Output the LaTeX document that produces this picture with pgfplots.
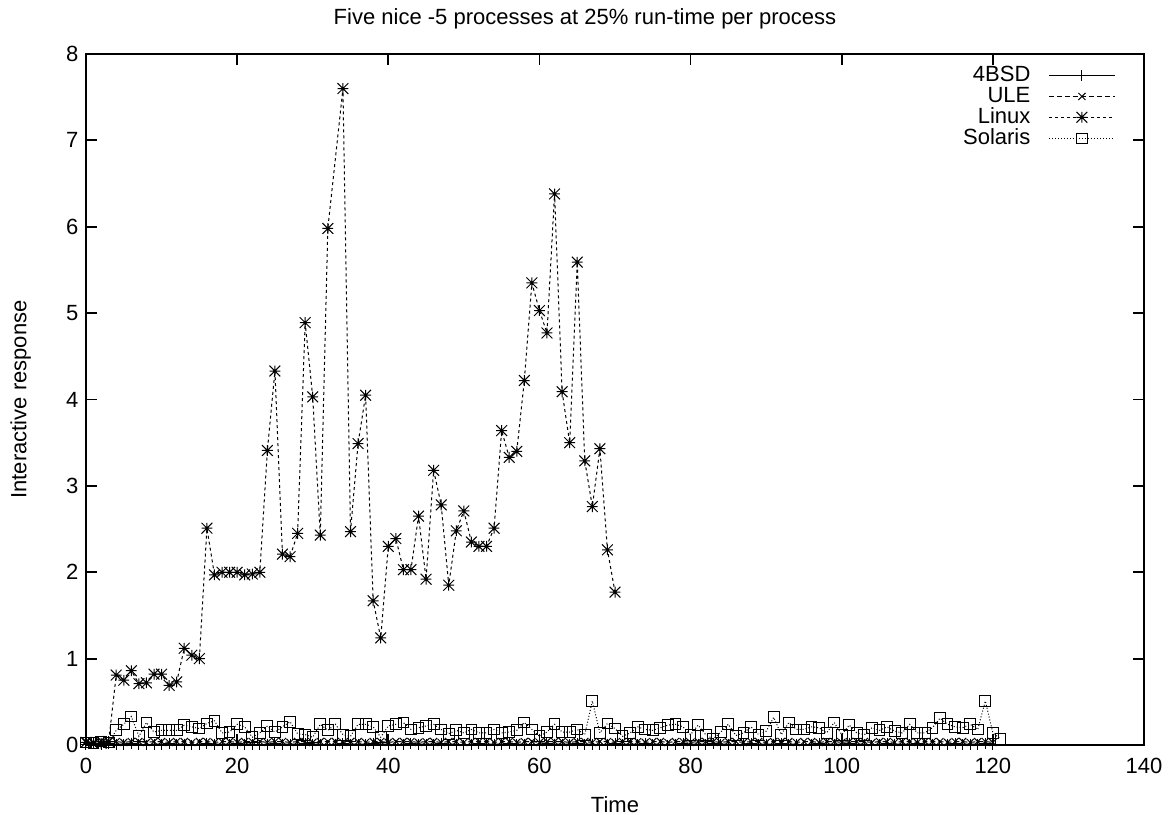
\documentclass[border=0pt]{standalone}
\usepackage{pgfplots}
\usepackage{pgfplotstable}
\pgfplotsset{compat=1.18}
\usepackage{fontspec}
\setmainfont{Liberation Sans}
\pgfdeclareplotmark{gpstar}{%
 \pgfpathmoveto{\pgfqpoint{-\pgfplotmarksize}{0pt}}\pgfpathlineto{\pgfqpoint{\pgfplotmarksize}{0pt}}%
 \pgfpathmoveto{\pgfqpoint{0pt}{-\pgfplotmarksize}}\pgfpathlineto{\pgfqpoint{0pt}{\pgfplotmarksize}}%
 \pgfpathmoveto{\pgfqpoint{-\pgfplotmarksize}{-\pgfplotmarksize}}\pgfpathlineto{\pgfqpoint{\pgfplotmarksize}{\pgfplotmarksize}}%
 \pgfpathmoveto{\pgfqpoint{-\pgfplotmarksize}{\pgfplotmarksize}}\pgfpathlineto{\pgfqpoint{\pgfplotmarksize}{-\pgfplotmarksize}}%
 \pgfusepathqstroke}

\pgfplotstableread{
x bsd ule
0 0.01 0.04
1 0.02 0.03
2 0.01 0.05
3 0.02 0.04
4 0.01 0.04
5 0.01 0.03
6 0.02 0.04
7 0.01 0.04
8 0.00 0.03
9 0.01 0.04
10 0.01 0.04
11 0.02 0.03
12 0.01 0.04
13 0.01 0.04
14 0.00 0.03
15 0.01 0.04
16 0.02 0.04
17 0.01 0.03
18 0.01 0.04
19 0.01 0.04
20 0.02 0.03
21 0.01 0.04
22 0.01 0.04
23 0.00 0.04
24 0.01 0.03
25 0.02 0.04
26 0.01 0.04
27 0.01 0.03
28 0.01 0.04
29 0.02 0.04
30 0.01 0.03
31 0.01 0.04
32 0.00 0.04
33 0.01 0.04
34 0.02 0.03
35 0.01 0.04
36 0.01 0.04
37 0.01 0.03
38 0.02 0.04
39 0.01 0.04
40 0.01 0.03
41 0.00 0.04
42 0.01 0.04
43 0.02 0.04
44 0.01 0.03
45 0.01 0.04
46 0.01 0.04
47 0.02 0.03
48 0.01 0.04
49 0.01 0.04
50 0.00 0.03
51 0.01 0.04
52 0.02 0.04
53 0.01 0.04
54 0.01 0.03
55 0.01 0.04
56 0.02 0.04
57 0.01 0.03
58 0.01 0.04
59 0.00 0.04
60 0.01 0.03
61 0.02 0.04
62 0.01 0.04
63 0.01 0.04
64 0.01 0.03
65 0.02 0.04
66 0.01 0.04
67 0.01 0.03
68 0.00 0.04
69 0.01 0.04
70 0.02 0.03
71 0.01 0.04
72 0.01 0.04
73 0.01 0.04
74 0.02 0.03
75 0.01 0.04
76 0.01 0.04
77 0.00 0.03
78 0.01 0.04
79 0.02 0.04
80 0.01 0.03
81 0.01 0.04
82 0.01 0.04
83 0.02 0.04
84 0.01 0.03
85 0.01 0.04
86 0.00 0.04
87 0.01 0.03
88 0.02 0.04
89 0.01 0.04
90 0.01 0.03
91 0.01 0.04
92 0.02 0.04
93 0.01 0.04
94 0.01 0.03
95 0.00 0.04
96 0.01 0.04
97 0.02 0.03
98 0.01 0.04
99 0.01 0.04
100 0.01 0.03
101 0.02 0.04
102 0.01 0.04
103 0.01 0.04
104 0.00 0.03
105 0.01 0.04
106 0.02 0.04
107 0.01 0.03
108 0.01 0.04
109 0.01 0.04
110 0.02 0.03
111 0.01 0.04
112 0.01 0.04
113 0.00 0.04
114 0.01 0.03
115 0.02 0.04
116 0.01 0.04
117 0.01 0.03
118 0.01 0.04
119 0.02 0.04
120 0.01 0.03
}\tblbsdule

\pgfplotstableread{
x y
0 0.03
1 0.02
2 0.02
3 0.04
4 0.81
5 0.75
6 0.86
7 0.71
8 0.72
9 0.82
10 0.82
11 0.69
12 0.73
13 1.12
14 1.04
15 1.00
16 2.51
17 1.97
18 2.00
19 2.00
20 2.00
21 1.97
22 1.98
23 2.00
24 3.41
25 4.33
26 2.21
27 2.18
28 2.45
29 4.89
30 4.03
31 2.43
32 5.98
34 7.60
35 2.47
36 3.49
37 4.05
38 1.67
39 1.24
40 2.30
41 2.39
42 2.03
43 2.03
44 2.65
45 1.92
46 3.18
47 2.78
48 1.85
49 2.48
50 2.71
51 2.35
52 2.30
53 2.30
54 2.51
55 3.64
56 3.33
57 3.40
58 4.22
59 5.35
60 5.03
61 4.77
62 6.38
63 4.09
64 3.50
65 5.59
66 3.29
67 2.76
68 3.43
69 2.26
70 1.77
}\tbllinux

\pgfplotstableread{
x y
0 0.03
1 0.02
2 0.04
3 0.03
4 0.17
5 0.24
6 0.33
7 0.10
8 0.26
9 0.15
10 0.17
11 0.17
12 0.17
13 0.23
14 0.21
15 0.19
16 0.25
17 0.28
18 0.14
19 0.15
20 0.24
21 0.21
22 0.09
23 0.14
24 0.22
25 0.15
26 0.21
27 0.27
28 0.13
29 0.12
30 0.09
31 0.24
32 0.17
33 0.24
34 0.12
35 0.10
36 0.24
37 0.24
38 0.21
39 0.09
40 0.22
41 0.24
42 0.26
43 0.18
44 0.20
45 0.22
46 0.24
47 0.18
48 0.13
49 0.17
50 0.14
51 0.18
52 0.14
53 0.14
54 0.18
55 0.14
56 0.15
57 0.17
58 0.26
59 0.18
60 0.10
61 0.15
62 0.24
63 0.15
64 0.15
65 0.18
66 0.12
67 0.51
68 0.14
69 0.25
70 0.19
71 0.10
72 0.14
73 0.21
74 0.18
75 0.17
76 0.20
77 0.23
78 0.24
79 0.21
80 0.12
81 0.23
82 0.12
83 0.07
84 0.15
85 0.24
86 0.11
87 0.14
88 0.21
89 0.12
90 0.16
91 0.32
92 0.12
93 0.26
94 0.18
95 0.18
96 0.21
97 0.20
98 0.14
99 0.26
100 0.12
101 0.23
102 0.14
103 0.12
104 0.20
105 0.17
106 0.21
107 0.16
108 0.14
109 0.24
110 0.14
111 0.14
112 0.20
113 0.31
114 0.24
115 0.21
116 0.20
117 0.24
118 0.18
119 0.51
120 0.14
121 0.07
}\tblsolaris

\begin{document}
\fontsize{11}{13}\selectfont
\begin{tikzpicture}
\begin{axis}[
  scale only axis,
  width=529pt, height=345.5pt,
  xmin=0, xmax=140, ymin=0, ymax=8,
  xtick={0,20,...,140}, ytick={0,1,...,8},
  tick align=inside,
  major tick length=5.5pt,
  axis line style={line width=0.9pt},
  every tick/.style={line width=0.9pt, black},
  /pgf/number format/assume math mode=true,
  tick label style={font=\fontsize{11}{13}\selectfont},
  xticklabel style={yshift=-2.5pt},
  label style={font=\fontsize{11}{13}\selectfont},
  xlabel style={yshift=-4pt},
  ylabel style={yshift=10pt},
  title style={font=\fontsize{11}{13}\selectfont, yshift=2.5pt, xshift=-15pt},
  title={Five nice -5 processes at 25\% run-time per process},
  xlabel={Time},
  ylabel={Interactive response},
  legend style={draw=none, fill=none, at={(0.979,0.994)}, anchor=north east,
    font=\fontsize{11}{13}\selectfont, row sep=-3pt},
  legend cell align=right,
  legend plot pos=right,
  every axis plot/.append style={line width=0.5pt, black, mark options={solid}},
  every axis plot post/.append style={legend image code/.code={\path (0pt,0pt); \draw[mark repeat=2,mark phase=2] plot coordinates {(7pt,0pt)(23.5pt,0pt)(40pt,0pt)};}},
]
\addplot[solid, mark=+, mark size=2.7pt] table[x=x, y=bsd] {\tblbsdule};
\addlegendentry{4BSD}
\addplot[dash pattern=on 2.5pt off 1.5pt, mark=x, mark size=2.5pt] table[x=x, y=ule] {\tblbsdule};
\addlegendentry{ULE}
\addplot[dash pattern=on 1.5pt off 1.5pt, mark=gpstar, mark size=2.7pt] table[x=x, y=y] {\tbllinux};
\addlegendentry{Linux}
\addplot[dash pattern=on 0.5pt off 1pt, mark=square, mark size=2.7pt] table[x=x, y=y] {\tblsolaris};
\addlegendentry{Solaris}
\end{axis}
\pgfresetboundingbox
\path ([shift={(-43pt,-34.5pt)}]current axis.south west) rectangle ([shift={(13.5pt,27pt)}]current axis.north east);
\end{tikzpicture}
\end{document}
